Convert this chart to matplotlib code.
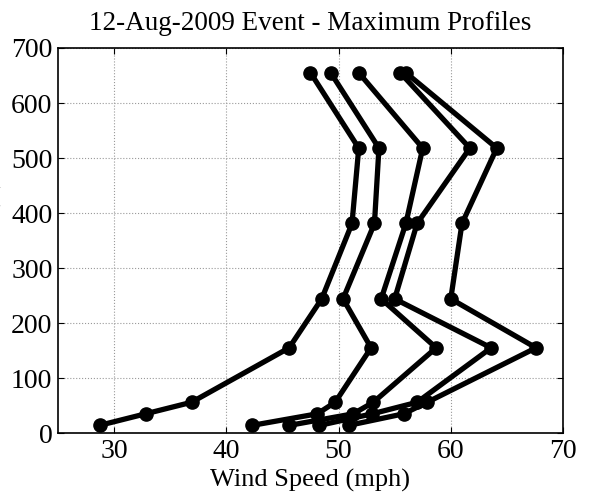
import numpy as np
import matplotlib.pyplot as plt

plt.rcParams['font.family'] = 'Liberation Serif'

# heights of the measurement levels (ft)
heights = [14, 35, 56, 155, 244, 381, 518, 655]

# maximum wind speed profiles (mph)
prof_a = [28.7, 32.8, 36.9, 45.6, 48.5, 51.2, 51.8, 47.5]
prof_b = [42.3, 48.1, 49.7, 52.9, 50.4, 53.2, 53.6, 49.3]
prof_c = [45.6, 51.3, 53.1, 58.7, 53.8, 56.0, 57.5, 51.8]
prof_d = [48.3, 53.0, 57.0, 63.6, 55.0, 57.0, 61.7, 55.5]
prof_e = [50.9, 55.8, 57.9, 67.6, 60.0, 61.0, 64.1, 56.0]

profiles = [prof_a, prof_b, prof_c, prof_d, prof_e]

fig = plt.figure(figsize=(5.9, 5.03), dpi=100)
ax = fig.add_axes([0.0983, 0.139, 0.8559, 0.7656])

for p in profiles:
    ax.plot(p, heights, color='k', linewidth=3.8, marker='o', markersize=9.5)

ax.set_xlim(25, 70)
ax.set_ylim(0, 700)
ax.set_xticks([30, 40, 50, 60, 70])
ax.set_yticks(np.arange(0, 701, 100))
ax.grid(True, linestyle=':', color='#999999', linewidth=0.8)
ax.tick_params(direction='in', top=True, right=True, labelsize=20, length=4, pad=4)
for s in ax.spines.values():
    s.set_linewidth(1.2)

ax.set_title('12-Aug-2009 Event - Maximum Profiles', fontsize=19.5, pad=13)
ax.set_xlabel('Wind Speed (mph)', fontsize=19, labelpad=4)
# y label sits mostly past the left edge of the figure
ax.set_ylabel('Height (ft)', fontsize=19)
ax.yaxis.set_label_coords(-0.11, 0.514)

fig.savefig('out.png', dpi=100)
